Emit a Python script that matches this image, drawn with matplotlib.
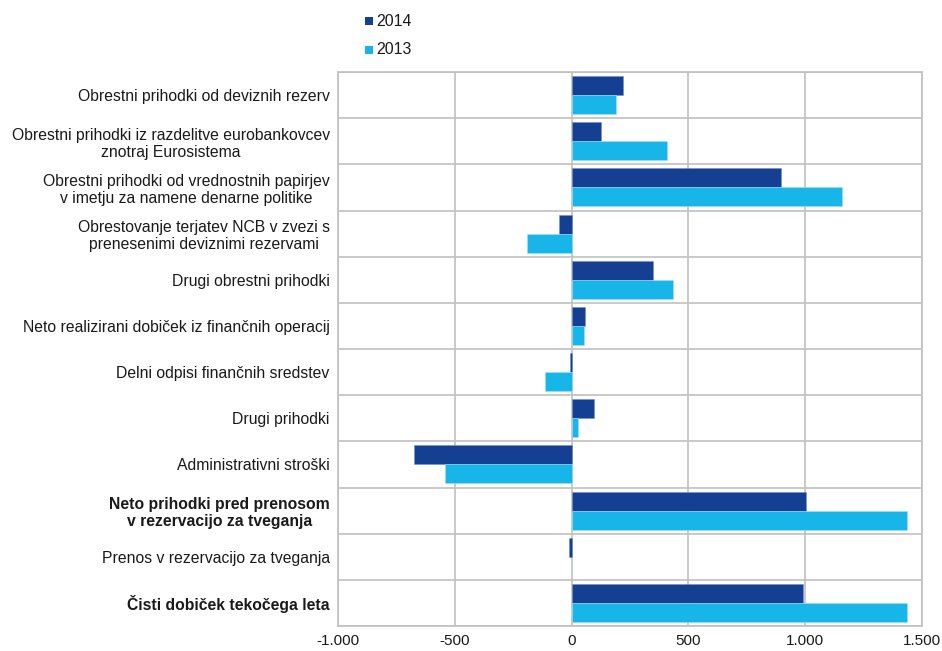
import matplotlib
matplotlib.use("Agg")
import matplotlib.pyplot as plt
from matplotlib.patches import Rectangle
import numpy as np

categories = [
    "Obrestni prihodki od deviznih rezerv",
    "Obrestni prihodki iz razdelitve eurobankovcev\nznotraj Eurosistema",
    "Obrestni prihodki od vrednostnih papirjev\nv imetju za namene denarne politike",
    "Obrestovanje terjatev NCB v zvezi s\nprenesenimi deviznimi rezervami",
    "Drugi obrestni prihodki",
    "Neto realizirani dobiček iz finančnih operacij",
    "Delni odpisi finančnih sredstev",
    "Drugi prihodki",
    "Administrativni stroški",
    "Neto prihodki pred prenosom\nv rezervacijo za tveganja",
    "Prenos v rezervacijo za tveganja",
    "Čisti dobiček tekočega leta",
]
bold_labels = [False] * 9 + [True, False, True]

values_2014 = [218, 126, 898, -55, 347, 58, -8, 95, -674, 1003, -13, 989]
values_2013 = [189, 408, 1157, -190, 435, 51, -112, 26, -542, 1437, 0, 1437]

xticks = [-1000, -500, 0, 500, 1000, 1500]
xtick_labels = ["-1.000", "-500", "0", "500", "1.000", "1.500"]

c2014 = "#143f93"
c2013 = "#17b5e8"
grid_c = "#c0c0c0"
txt_c = "#1a1a1a"

plt.rcParams["font.family"] = ["Liberation Sans", "DejaVu Sans"]

fig = plt.figure(figsize=(9.42, 6.51), dpi=100)
ax = fig.add_axes([338 / 942, 1 - 626 / 651, (922 - 338) / 942, (626 - 72) / 651])

n = len(categories)
y = np.arange(n)
h = 0.41
ax.barh(y - h / 2, values_2014, height=h, color=c2014, label="2014", zorder=3,
        edgecolor="#6f8fc9", linewidth=0.4)
ax.barh(y + h / 2, values_2013, height=h, color=c2013, label="2013", zorder=3,
        edgecolor="#9fe0f6", linewidth=0.4)

ax.set_xlim(-1000, 1500)
ax.set_ylim(n - 0.5, -0.5)
ax.set_xticks(xticks)
ax.set_xticklabels(xtick_labels, fontsize=11, color=txt_c)
ax.set_yticks(y)
ax.set_yticklabels(categories, fontsize=11.3, color=txt_c)
for lab, b in zip(ax.get_yticklabels(), bold_labels):
    lab.set_multialignment("center")
    lab.set_linespacing(1.15)
    if b:
        lab.set_fontweight("bold")
ax.tick_params(axis="both", length=0)
ax.tick_params(axis="y", pad=6)
ax.tick_params(axis="x", pad=6)

for xv in xticks:
    ax.axvline(xv, color=grid_c, linewidth=1.2, zorder=1)
for k in range(n + 1):
    ax.axhline(k - 0.5, color=grid_c, linewidth=1.2, zorder=1)
for s in ax.spines.values():
    s.set_color(grid_c)
    s.set_linewidth(1.2)

# legend
W, H = 942, 651
for yy, col, lab in [(21, c2014, "2014"), (50, c2013, "2013")]:
    fig.add_artist(Rectangle((365 / W, 1 - (yy + 4) / H), 8 / W, 8 / H,
                             transform=fig.transFigure, color=col, lw=0))
    fig.text(376 / W, 1 - yy / H, lab, fontsize=11.4, va="center", ha="left", color=txt_c)

fig.savefig("out.png", dpi=100)
